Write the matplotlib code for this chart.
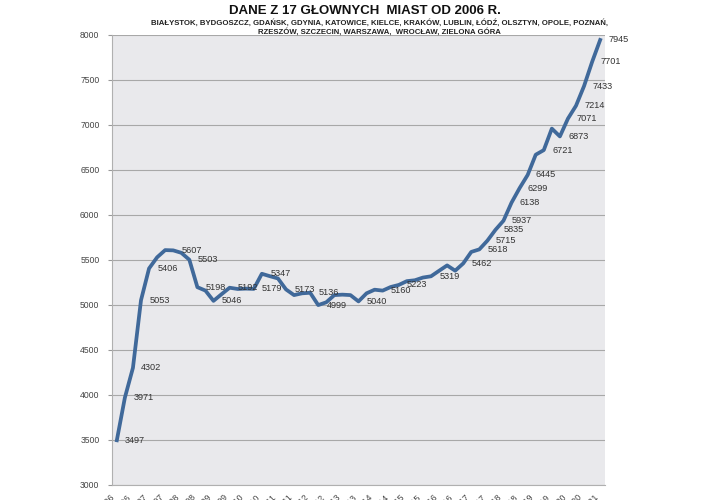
import matplotlib
matplotlib.use("Agg")
import matplotlib.pyplot as plt

plt.rcParams['font.family'] = ['Liberation Sans', 'DejaVu Sans']

# kwartalne dane od I kw. 2006 do I kw. 2021
years = list(range(2006, 2022))
quarters = ['I', 'II', 'III', 'IV']
prices = [3497, 3971, 4302, 5053, 5406, 5530, 5610, 5607, 5580, 5503,
          5198, 5160, 5046, 5120, 5192, 5178, 5182, 5179, 5347, 5320,
          5295, 5173, 5110, 5130, 5136, 4999, 5030, 5110, 5115, 5110,
          5040, 5130, 5170, 5160, 5200, 5223, 5265, 5275, 5305, 5319,
          5380, 5440, 5381, 5462, 5590, 5618, 5715, 5835, 5937, 6138,
          6299, 6445, 6670, 6721, 6960, 6873, 7071, 7214, 7433, 7701,
          7945]
labeled = [0, 1, 2, 3, 4, 7, 9, 10, 12, 14, 17, 18, 21, 24, 25, 30, 33,
           35, 39, 43, 45, 46, 47, 48, 49, 50, 51, 53, 55, 56, 57, 58, 59, 60]

periods = [f"{q} kw. {y}" for y in years for q in quarters][:len(prices)]

fig = plt.figure(figsize=(7.2, 5.0), dpi=100)
ax = fig.add_axes([112/720, 15/500, 493/720, 450/500])
ax.set_facecolor('#e9e9ec')

x = list(range(len(prices)))
ax.plot(x, prices, color='#40699a', lw=2.7, solid_joinstyle='round', zorder=3)

for i in labeled:
    ax.annotate(str(prices[i]), (i, prices[i]), xytext=(6, 0),
                textcoords='offset points', va='center', ha='left',
                fontsize=6.6, color='#333333', zorder=4)

ax.set_ylim(3000, 8000)
ax.set_xlim(-0.6, len(prices) - 0.4)
ax.set_yticks(range(3000, 8001, 500))
ax.grid(axis='y', color='#a8a8a8', lw=0.8)
ax.set_axisbelow(True)
ax.tick_params(axis='y', labelsize=6.2, labelcolor='#444444', length=3,
               color='#999999', pad=6)

ax.set_xticks(x[::2])
ax.set_xticklabels(periods[::2], rotation=45, ha='right', fontsize=6.3,
                   color='#444444')
ax.tick_params(axis='x', length=0, pad=6)

for side in ['top', 'right']:
    ax.spines[side].set_visible(False)
for side in ['left', 'bottom']:
    ax.spines[side].set_color('#b0b0b0')

fig.text(0.507, 0.99, 'DANE Z 17 GŁOWNYCH  MIAST OD 2006 R.', ha='center',
         va='top', fontsize=9.5, fontweight='bold', color='#111111')
fig.text(0.527, 0.962,
         'BIAŁYSTOK, BYDGOSZCZ, GDAŃSK, GDYNIA, KATOWICE, KIELCE, KRAKÓW, '
         'LUBLIN, ŁÓDŹ, OLSZTYN, OPOLE, POZNAŃ,\n'
         'RZESZÓW, SZCZECIN, WARSZAWA,  WROCŁAW, ZIELONA GÓRA',
         ha='center', va='top', fontsize=5.6, fontweight='bold',
         color='#222222', linespacing=1.3)

fig.savefig('out.png', dpi=100)
